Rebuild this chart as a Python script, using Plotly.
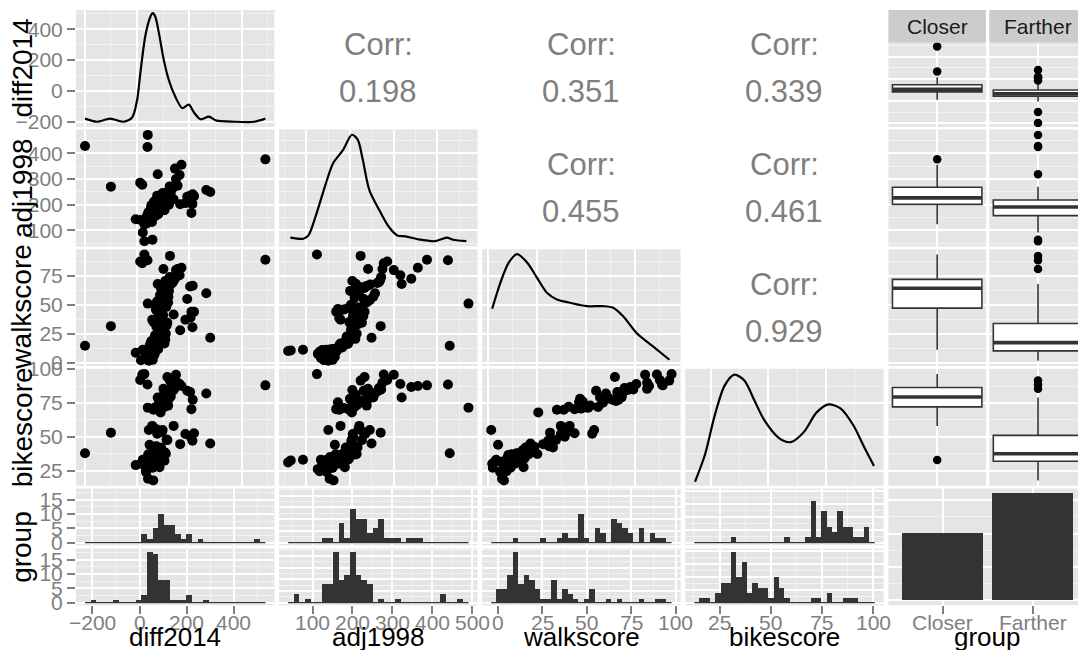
import numpy as np
import plotly.graph_objects as go

W, H = 1078, 650

# Farther group
walk_farther = [1.5, 2, 2.3, 3, 4, 5, 6, 6.5, 7, 7.5, 8, 8.5, 9, 9.3, 9.6, 10, 10.2, 10.5, 10.8, 11,
                11.2, 11.4, 11.6, 12, 13, 13.5, 14.5, 15, 15.5, 16, 16.5, 17, 17.5, 18, 18.5, 19, 20, 20.5,
                21.5, 22.5, 23.5, 25, 28, 30.5, 31, 31.5, 32, 33, 34.5, 37, 38, 39, 40, 41.5, 44, 51, 52,
                53, 54, 62, 68, 81, 88.6, 92.3]
bike_farther = [55, 30, 27, 31, 33, 44, 24, 31.5, 19, 26, 17.7, 29, 32, 24.5, 34, 31, 36.5, 32.5, 29.5, 33,
                35, 27, 31.8, 37, 34.5, 30, 37.8, 37.5, 35.5, 33, 32.2, 36.2, 40, 27.5, 34, 42, 38.3, 36.8,
                45, 39, 42.5, 37.2, 44.5, 47, 43, 53, 48, 42, 47.5, 52, 55.5, 50, 53.5, 58, 52.5, 71.5, 73,
                52.2, 55, 78, 79, 85.4, 88.6, 91.5]
adj_farther = [150, 140, 160, 155, 133, 165, 146, 157, 153, 126, 162, 143, 156, 130, 159, 58, 170, 64, 136, 92,
               154, 158, 163, 167, 182, 173, 428, 184, 176, 195, 178, 186, 196, 188, 198, 190, 199, 212,
               249, 192, 201, 215, 202, 203, 210, 270, 204, 217, 227, 206, 219, 207, 230, 221, 233, 471, 238,
               235, 245, 200, 318, 241, 424, 224]
diff_farther = [45, 15, 60, 38, 57, 48, 34, 66, 42, 35, 62, -5, 70, 36, 52, 28, 44, 59, 37, 22,
                64, 39, 81, 43, 68, 47, -199, 84, 50, 58, 105, 53, 72, 86, 55, 63, 108, 65,
                280, 89, 69, 110, 165, 212, 74, -100, 113, 92, 116, 185, 75, 205, 95, 140, 218, 41, 119,
                77, 98, 122, 79, 101, 40, 126]
# Closer group
walk_closer = [11, 25.5, 35, 37, 38.5, 41, 44, 45.8, 46.3, 46.8, 47.3, 47.8, 48.2, 50, 55, 56, 57, 58.5, 60, 64,
               64.6, 65.2, 65.8, 66.4, 67.5, 68.2, 68.9, 69.5, 70.5, 71.5, 72.5, 74, 75.5, 80, 81, 82, 86,
               87.5, 89, 93.5]
bike_closer = [32.8, 68, 69.9, 58, 70, 72.2, 70.4, 71.2, 75.5, 78, 70.8, 73.5, 76, 71.6, 84, 72, 79, 75.2, 82, 77,
               94.2, 76.5, 83, 77.3, 79.7, 81, 83.5, 86, 84.5, 84.8, 86.8, 85, 89, 95.8, 90, 87.5, 96.0,
               92, 88, 96.3]
adj_closer = [145, 204, 198, 178, 175, 207, 168, 185, 172, 200, 196, 216, 228, 202, 231, 210, 253, 221, 257, 218,
              233, 225, 235, 240, 246, 213, 262, 266, 205, 269, 340, 271, 315, 300, 274, 355, 277, 285, 376, 124]
diff_closer = [45, 90, 63, 58, 83, 100, 208, 72, 85, 95, 77, 81, 112, 68, 192, 105, 120, 88, 265, 92,
               116, 97, 203, 213, 129, 102, 133, 137, 108, 141, 145, 125, 163, 149, 155, 170, 20, 12, 491, 28]

var_names = ["diff2014", "adj1998", "walkscore", "bikescore"]
group_levels = ["Closer", "Farther"]

corr_row = [0, 0, 0, 1, 1, 2]
corr_col = [1, 2, 3, 2, 3, 3]
corr_val = ["0.198", "0.351", "0.339", "0.455", "0.461", "0.929"]

# diagonal density curves (in units of each variable)
dens_diff_x = [-199, -154, -103, -51.5, -19, 0, 12.7, 32, 51, 60, 70, 83, 102, 121.5, 147, 173, 198, 218, 243, 275, 301, 372, 448, 491]
dens_diff_y = [-180, -200, -180, -200, -173, -62, 116, 360, 482, 505, 482, 382, 204, 71, -40, -111, -89, -140, -184, -167, -191, -200, -200, -180]
dens_adj_x = [63, 93, 104.5, 123, 142, 161, 184, 204, 217.6, 229, 244, 267, 289, 308, 327, 357, 395, 421, 436, 466]
dens_adj_y = [71.5, 67.6, 80.5, 165.4, 269.4, 361, 413, 471.6, 452, 374, 256.5, 178.3, 113, 80.5, 76.6, 64.8, 58, 71.5, 63.7, 58]
dens_walk_x = [2.0, 6.2, 10.5, 14.7, 19.8, 24.8, 29.9, 35, 41.7, 50.2, 58.6, 63.7, 68.8, 75.6, 84, 92.4]
dens_walk_y = [46.5, 69.2, 86.6, 93.8, 86.6, 73.5, 60.4, 54.6, 51.7, 48.8, 48.8, 47.4, 40, 25.6, 14, 2.4]
dens_bike_x = [18, 22.3, 26.6, 30.9, 35.2, 39.5, 43.9, 48.2, 54.6, 59.8, 65.4, 71, 76.2, 81.4, 87, 91.7, 96]
dens_bike_y = [16.7, 36.5, 65.8, 87.8, 95.9, 91.5, 76.8, 62.2, 49, 46, 53.4, 68, 73.9, 71, 58.5, 42.4, 28.4]
dens_x = [dens_diff_x, dens_adj_x, dens_walk_x, dens_bike_x]
dens_y = [dens_diff_y, dens_adj_y, dens_walk_y, dens_bike_y]

# axis breaks
major_breaks = [[-200, 0, 200, 400], [100, 200, 300, 400, 500], [0, 25, 50, 75, 100], [25, 50, 75, 100]]
minor_breaks = [[-300, -100, 100, 300, 500], [50, 150, 250, 350, 450], [12.5, 37.5, 62.5, 87.5], [12.5, 37.5, 62.5, 87.5]]

# histogram binning of the bottom row
hist_start = [-231, 39, -3.6, 12.7]
hist_width = [23.9, 14.1, 3.07, 2.59]
hist_bins = [32, 32, 33, 34]

# ---------------- styling ----------------
FONT = "Liberation Sans, Arial, Helvetica, sans-serif"
GREY_BG = "#E5E5E5"
TICK_GREY = "#7F7F7F"
DARK = "#333333"
TICK_SIZE = 21
XLAB_Y = 622          # vertical centre (px) of the bottom tick labels

data = {
    "Closer": [np.array(diff_closer, float), np.array(adj_closer, float), np.array(walk_closer, float), np.array(bike_closer, float)],
    "Farther": [np.array(diff_farther, float), np.array(adj_farther, float), np.array(walk_farther, float), np.array(bike_farther, float)],
}
allv = [np.concatenate([data["Closer"][i], data["Farther"][i]]) for i in range(4)]


def expand(lo, hi, f=0.05):
    s = hi - lo
    return [lo - f * s, hi + f * s]


rng = [expand(v.min(), v.max()) for v in allv]

col_left = [76 + i * 203.1 for i in range(5)]
COL_W = 198.4
row_top = [10 + i * 119.6 for i in range(5)]
ROW_H = 116.9
GAP = 3.3
STRIP_H = 32.7

layout = dict(template="none", width=W, height=H,
              margin=dict(l=0, r=0, t=0, b=0, pad=0, autoexpand=False), paper_bgcolor="white",
              plot_bgcolor="rgba(0,0,0,0)", showlegend=False, bargap=0)
shapes, annots, traces = [], [], []
n_ax = [0]


def fmt(v):
    return f"{v:g}".replace("-", "\u2212")


def add_panel(l, t, w, h, xr, yr, xmaj, xmin, ymaj, ymin, bg=GREY_BG, gridc="white", minorc="#F2F2F2",
              xlabels=False, ylabels=False, xtext=None):
    n_ax[0] += 1
    n = n_ax[0]
    sfx = "" if n == 1 else str(n)
    r = l + w
    x0, x1 = xr
    if r > W:
        x1 = x0 + (x1 - x0) * (W - l) / w
        r = W
    xd = [l / W, r / W]
    yd = [1 - (t + h) / H, 1 - t / H]
    if bg:
        shapes.append(dict(type="rect", xref="paper", yref="paper", x0=xd[0], x1=xd[1], y0=yd[0], y1=yd[1],
                           fillcolor=bg, line=dict(width=0), layer="below"))
    common = dict(showline=False, zeroline=False, showgrid=True, gridcolor=gridc, gridwidth=1.8,
                  ticklen=8, tickwidth=1.5, tickcolor=TICK_GREY, automargin=False,
                  tickfont=dict(family=FONT, size=TICK_SIZE, color=TICK_GREY), fixedrange=True, tickmode="array")
    layout["xaxis" + sfx] = dict(common, domain=xd, range=[x0, x1], anchor="y" + sfx, tickvals=xmaj,
                                 showticklabels=False, ticks="outside" if xlabels else "",
                                 minor=dict(tickmode="array", tickvals=xmin, showgrid=True, gridcolor=minorc,
                                            gridwidth=0.9, ticks=""))
    layout["yaxis" + sfx] = dict(common, domain=yd, range=list(yr), anchor="x" + sfx, tickvals=ymaj,
                                 ticktext=[fmt(v) for v in ymaj],
                                 showticklabels=ylabels, ticks="outside" if ylabels else "",
                                 minor=dict(tickmode="array", tickvals=ymin, showgrid=True, gridcolor=minorc,
                                            gridwidth=0.9, ticks=""))
    if xlabels:
        texts = xtext if xtext else [fmt(v) for v in xmaj]
        for v, s in zip(xmaj, texts):
            if x0 <= v <= xr[1]:
                annots.append(dict(text=s, x=v, xref="x" + sfx, y=1 - XLAB_Y / H, yref="paper",
                                   showarrow=False, xanchor="center", yanchor="middle",
                                   font=dict(family=FONT, size=TICK_SIZE, color=TICK_GREY)))
    return "x" + sfx, "y" + sfx


# ---------------- upper-left 4x4 block ----------------
for r in range(4):
    for c in range(4):
        l, t = col_left[c], row_top[r]
        if r < c:
            add_panel(l, t, COL_W, ROW_H, rng[c], rng[r], major_breaks[c], minor_breaks[c],
                      major_breaks[r], minor_breaks[r], bg="white", gridc="#D6D6D6", minorc="#E6E6E6")
            k = [i for i in range(len(corr_row)) if corr_row[i] == r and corr_col[i] == c][0]
            cx = (l + COL_W / 2) / W
            cy = t + ROW_H / 2
            annots.append(dict(text="Corr:", x=cx, y=1 - (cy - 23.5) / H, xref="paper", yref="paper",
                               showarrow=False, xanchor="center", yanchor="middle",
                               font=dict(family=FONT, size=31, color=TICK_GREY)))
            annots.append(dict(text=corr_val[k], x=cx, y=1 - (cy + 23.5) / H, xref="paper", yref="paper",
                               showarrow=False, xanchor="center", yanchor="middle",
                               font=dict(family=FONT, size=31, color=TICK_GREY)))
        elif r == c:
            xa, ya = add_panel(l, t, COL_W, ROW_H, rng[c], rng[r], major_breaks[c], minor_breaks[c],
                               major_breaks[r], minor_breaks[r], ylabels=(c == 0))
            traces.append(go.Scatter(x=dens_x[c], y=dens_y[c], mode="lines", xaxis=xa, yaxis=ya,
                                     line=dict(color="black", width=2.2, shape="spline", smoothing=0.8),
                                     hoverinfo="skip"))
        else:
            xa, ya = add_panel(l, t, COL_W, ROW_H, rng[c], rng[r], major_breaks[c], minor_breaks[c],
                               major_breaks[r], minor_breaks[r], ylabels=(c == 0))
            traces.append(go.Scatter(x=allv[c], y=allv[r], mode="markers", xaxis=xa, yaxis=ya,
                                     marker=dict(color="black", size=10, line=dict(width=0)),
                                     hoverinfo="skip"))

# ---------------- right column: box plots faceted by group ----------------
FW = (COL_W - GAP) / 2
for r in range(4):
    t = row_top[r] + (STRIP_H if r == 0 else 0)
    h = ROW_H - (STRIP_H if r == 0 else 0)
    for gi, g in enumerate(group_levels):
        l = col_left[4] + gi * (FW + GAP)
        xa, ya = add_panel(l, t, FW, h, [0.4, 1.6], rng[r], [1], [], major_breaks[r], minor_breaks[r])
        vals = data[g][r]
        traces.append(go.Box(y=vals, x0=1, width=1.1, xaxis=xa, yaxis=ya, boxpoints="outliers",
                             fillcolor="white", line=dict(color=DARK, width=1.6), whiskerwidth=0,
                             pointpos=0, jitter=0, quartilemethod="linear",
                             marker=dict(color="black", size=8.5, line=dict(width=0)), hoverinfo="skip"))
        med = float(np.median(vals))
        traces.append(go.Scatter(x=[1 - 0.55, 1 + 0.55], y=[med, med], mode="lines", xaxis=xa, yaxis=ya,
                                 line=dict(color=DARK, width=3.6), hoverinfo="skip"))
        if r == 0:
            x0p = l / W
            x1p = min(l + FW, W) / W
            shapes.append(dict(type="rect", xref="paper", yref="paper", x0=x0p, x1=x1p,
                               y0=1 - (row_top[0] + STRIP_H) / H, y1=1 - row_top[0] / H,
                               fillcolor="#CCCCCC", line=dict(width=0), layer="below"))
            annots.append(dict(text=g, x=(l + FW / 2) / W, y=1 - (row_top[0] + STRIP_H / 2) / H,
                               xref="paper", yref="paper", showarrow=False, xanchor="center",
                               yanchor="middle", font=dict(family=FONT, size=21, color="#1A1A1A")))

# ---------------- bottom row: histograms faceted by group ----------------
FH = (ROW_H - GAP) / 2
for c in range(4):
    edges = hist_start[c] + hist_width[c] * np.arange(hist_bins[c] + 1)
    centers = (edges[:-1] + edges[1:]) / 2
    counts = {g: np.histogram(data[g][c], bins=edges)[0] for g in group_levels}
    ymax = max(counts[g].max() for g in group_levels)
    step = 5 if ymax > 12 else 2.5
    ymaj = list(np.arange(0, ymax * 1.05 + 0.01, step))
    ymin = [v + step / 2 for v in ymaj]
    xr = expand(edges[0], edges[-1])
    for gi, g in enumerate(group_levels):
        t = row_top[4] + gi * (FH + GAP)
        xa, ya = add_panel(col_left[c], t, COL_W, FH, xr, [-0.05 * ymax, 1.05 * ymax],
                           major_breaks[c], minor_breaks[c], ymaj, ymin,
                           xlabels=(gi == 1), ylabels=(c == 0))
        traces.append(go.Bar(x=centers, y=counts[g], width=hist_width[c], xaxis=xa, yaxis=ya,
                             marker=dict(color=DARK, line=dict(width=0)), hoverinfo="skip"))
        traces.append(go.Scatter(x=[edges[0], edges[-1]], y=[0, 0], mode="lines", xaxis=xa, yaxis=ya,
                                 line=dict(color=DARK, width=1.3), hoverinfo="skip"))

# ---------------- bottom-right: bar chart of group ----------------
group_counts = [len(data[g][0]) for g in group_levels]
gmax = max(group_counts)
xa, ya = add_panel(col_left[4], row_top[4], COL_W, ROW_H, [0.4, 2.6], [-0.05 * gmax, 1.05 * gmax],
                   [1, 2], [], [0, 20, 40, 60], [10, 30, 50], xlabels=True, xtext=group_levels)
traces.append(go.Bar(x=[1, 2], y=group_counts, width=0.9, xaxis=xa, yaxis=ya,
                     marker=dict(color=DARK, line=dict(width=0)), hoverinfo="skip"))

# ---------------- axis titles ----------------
x_titles = var_names + ["group"]
for c in range(5):
    annots.append(dict(text=x_titles[c], x=(col_left[c] + COL_W / 2) / W, y=1 - 637 / H, xref="paper",
                       yref="paper", showarrow=False, xanchor="center", yanchor="middle",
                       font=dict(family=FONT, size=26, color="black")))
for r in range(5):
    annots.append(dict(text=x_titles[r], x=22 / W, y=1 - (row_top[r] + ROW_H / 2) / H, xref="paper",
                       yref="paper", showarrow=False, xanchor="center", yanchor="middle", textangle=-90,
                       font=dict(family=FONT, size=28, color="black")))

layout["shapes"] = shapes
layout["annotations"] = annots
fig = go.Figure(data=traces, layout=layout)
fig.write_html("out.html", config={"displayModeBar": False},
               post_script="document.body.style.margin='0';document.body.style.padding='0';"
                           "document.documentElement.style.overflow='hidden';")
